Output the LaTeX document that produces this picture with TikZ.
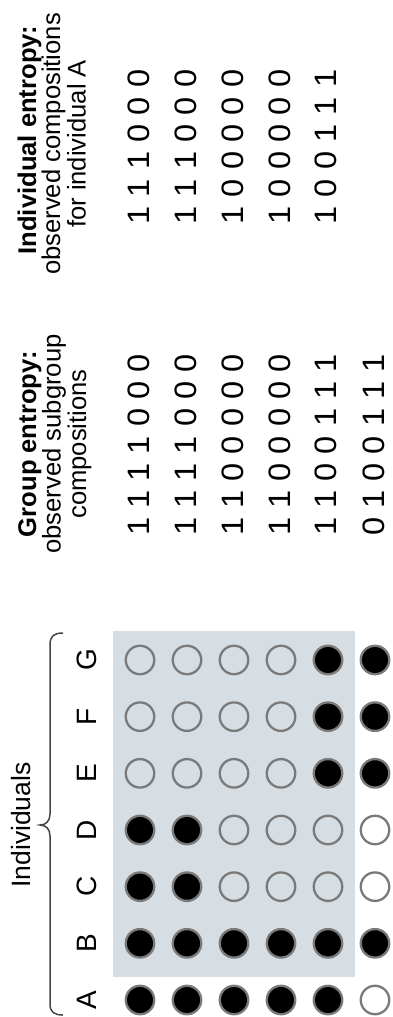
\documentclass[tikz,border=0pt]{standalone}
\usepackage{fontspec}
\setmainfont{Liberation Sans}
\usepackage{graphicx}

\definecolor{panelgray}{RGB}{215,222,227}
\definecolor{ringgray}{RGB}{122,122,122}
\definecolor{bracegray}{RGB}{70,70,70}

% one row of digits, each set in a fixed-width cell
\newcommand{\digcell}[1]{\makebox[27.3pt]{\scalebox{1.05}[1]{#1}}}
\def\digrow#1{\digrowstep#1\relax}
\def\digrowstep#1{\ifx#1\relax\else\digcell{#1}\expandafter\digrowstep\fi}

\begin{document}
\begin{tikzpicture}[x=1pt,y=-1pt,
  dotbase/.style={circle,minimum size=28.5pt,inner sep=0pt,line width=2.3pt,draw=ringgray},
  dotf/.style={dotbase,fill=black},
  doto/.style={dotbase},
  dotw/.style={dotbase,fill=white},
  collabel/.style={rotate=90,inner sep=0pt,font=\fontsize{28}{28}\selectfont},
  hbold/.style={rotate=90,anchor=base,inner sep=0pt,font=\fontsize{25.6}{25.6}\selectfont\bfseries},
  hreg/.style={rotate=90,anchor=base,inner sep=0pt,font=\fontsize{25.6}{25.6}\selectfont},
  digits/.style={rotate=90,inner sep=0pt,font=\fontsize{31}{31}\selectfont},
  panelbox/.style={fill=panelgray,inner sep=0pt,minimum width=242pt,minimum height=346pt}
]
\useasboundingbox (0,0) rectangle (393,1017);

% shaded block of sampled subgroups
\node[panelbox] (panel) at (234,804) {};

% individual labels
\foreach \L [count=\k from 0] in {A,B,C,D,E,F,G}
  \node[collabel] (lab\L) at (87,1000-56.67*\k) {\L};

% brace over the individuals
\coordinate (braceTop) at (63,633);
\coordinate (braceTip) at (40,825);
\coordinate (braceBot) at (63,1015);
\draw[bracegray,line width=1.5pt]
  (braceTop) .. controls (54,633) and (50,636) .. (50,645) -- (50,814)
  .. controls (50,821) and (46,825) .. (braceTip)
  .. controls (46,825) and (50,829) .. (50,836) -- (50,1004)
  .. controls (50,1012) and (54,1015) .. (braceBot);
\node[rotate=90,anchor=base,inner sep=0pt,font=\fontsize{26.5}{26.5}\selectfont]
  (indiv) at (30,825) {Individuals};

% observed compositions, one row per sample
\foreach \c/\s [count=\k from 0] in {A/f,B/f,C/f,D/f,E/o,F/o,G/o}
  \node[dot\s] (p1\c) at (140,1000-56.67*\k) {};
\foreach \c/\s [count=\k from 0] in {A/f,B/f,C/f,D/f,E/o,F/o,G/o}
  \node[dot\s] (p2\c) at (187,1000-56.67*\k) {};
\foreach \c/\s [count=\k from 0] in {A/f,B/f,C/o,D/o,E/o,F/o,G/o}
  \node[dot\s] (p3\c) at (234,1000-56.67*\k) {};
\foreach \c/\s [count=\k from 0] in {A/f,B/f,C/o,D/o,E/o,F/o,G/o}
  \node[dot\s] (p4\c) at (281,1000-56.67*\k) {};
\foreach \c/\s [count=\k from 0] in {A/f,B/f,C/o,D/o,E/f,F/f,G/f}
  \node[dot\s] (p5\c) at (328,1000-56.67*\k) {};
\foreach \c/\s [count=\k from 0] in {A/w,B/f,C/w,D/w,E/f,F/f,G/f}
  \node[dot\s] (p6\c) at (375,1000-56.67*\k) {};

% group entropy
\node[hbold] (gh1) at (36,444) {Group entropy:};
\node[hreg]  (gh2) at (60.5,444) {observed subgroup};
\node[hreg]  (gh3) at (86,444) {compositions};
\node[digits] (g1) at (139,445) {\digrow{1111000}};
\node[digits] (g2) at (186,445) {\digrow{1111000}};
\node[digits] (g3) at (233,445) {\digrow{1100000}};
\node[digits] (g4) at (280,445) {\digrow{1100000}};
\node[digits] (g5) at (326,445) {\digrow{1100111}};
\node[digits] (g6) at (374,445) {\digrow{0100111}};

% individual entropy
\node[hbold] (ih1) at (36,140) {Individual entropy:};
\node[hreg]  (ih2) at (60,144) {observed compositions};
\node[hreg]  (ih3) at (85.5,144) {for individual A};
\node[digits] (i1) at (139,147) {\digrow{111000}};
\node[digits] (i2) at (186,147) {\digrow{111000}};
\node[digits] (i3) at (233,147) {\digrow{100000}};
\node[digits] (i4) at (280,147) {\digrow{100000}};
\node[digits] (i5) at (326,147) {\digrow{100111}};
\end{tikzpicture}
\end{document}
